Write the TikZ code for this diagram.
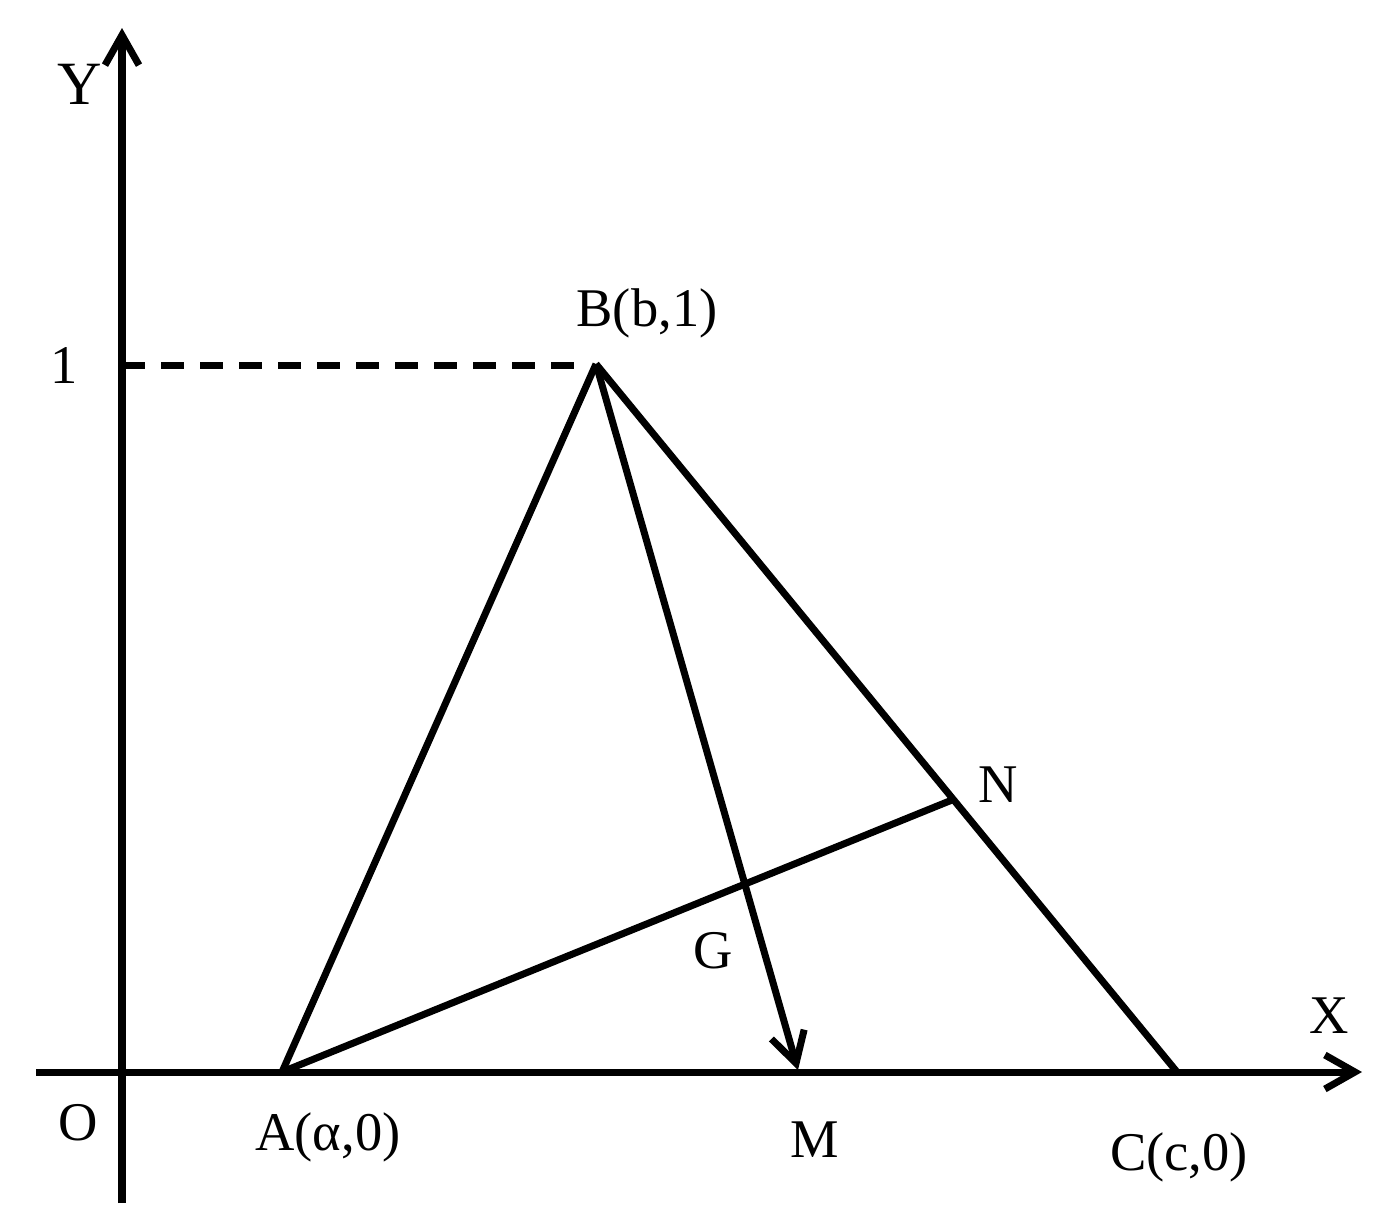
\documentclass[tikz,border=0pt]{standalone}
\usepackage{fontspec}
\setmainfont{Liberation Serif}
\usetikzlibrary{arrows.meta}
\begin{document}
\begin{tikzpicture}[x=0.01cm,y=-0.01cm,
  ln/.style={line width=0.07cm},
  arr/.style={ln,-{Straight Barb[length=0.3cm,width=0.34cm,line width=0.07cm]}},
  lbl/.style={font=\fontsize{15.5}{18}\selectfont,anchor=base,inner sep=0pt}]
\useasboundingbox (0,0) rectangle (1394,1227);
% points
\coordinate (O) at (122,1072);
\coordinate (Ybot) at (122,1203);
\coordinate (Ytop) at (122,28);
\coordinate (Xl) at (36,1072);
\coordinate (Xr) at (1362,1072);
\coordinate (A) at (282,1072);
\coordinate (B) at (596,364);
\coordinate (C) at (1177,1072);
\coordinate (M) at (798,1070);
\coordinate (N) at (952,800);
\coordinate (Y1) at (122,365);
\coordinate (B1) at (590,365);
% axes
\draw[arr] (Ybot) -- (Ytop);
\draw[arr] (Xl) -- (Xr);
% dashed
\draw[ln,dash pattern=on 0.23cm off 0.16cm] (Y1) -- (B1);
% triangle
\draw[ln] (A) -- (B);
\draw[ln] (B) -- (C);
\draw[arr] (B) -- (M);
\draw[ln] (A) -- (N);
% labels
\node[lbl,font=\fontsize{17.5}{20}\selectfont] (lY) at (80,104) {Y};
\node[lbl] (l1) at (64,383) {1};
\node[lbl] (lB) at (647,326) {B(b,1)};
\node[lbl] (lX) at (1329,1033) {X};
\node[lbl] (lO) at (78,1140) {O};
\node[lbl] (lA) at (328,1150) {A(α,0)};
\node[lbl] (lM) at (815,1157) {M};
\node[lbl] (lC) at (1179,1170) {C(c,0)};
\node[lbl] (lG) at (713,968) {G};
\node[lbl] (lN) at (998,802) {N};
\end{tikzpicture}
\end{document}
